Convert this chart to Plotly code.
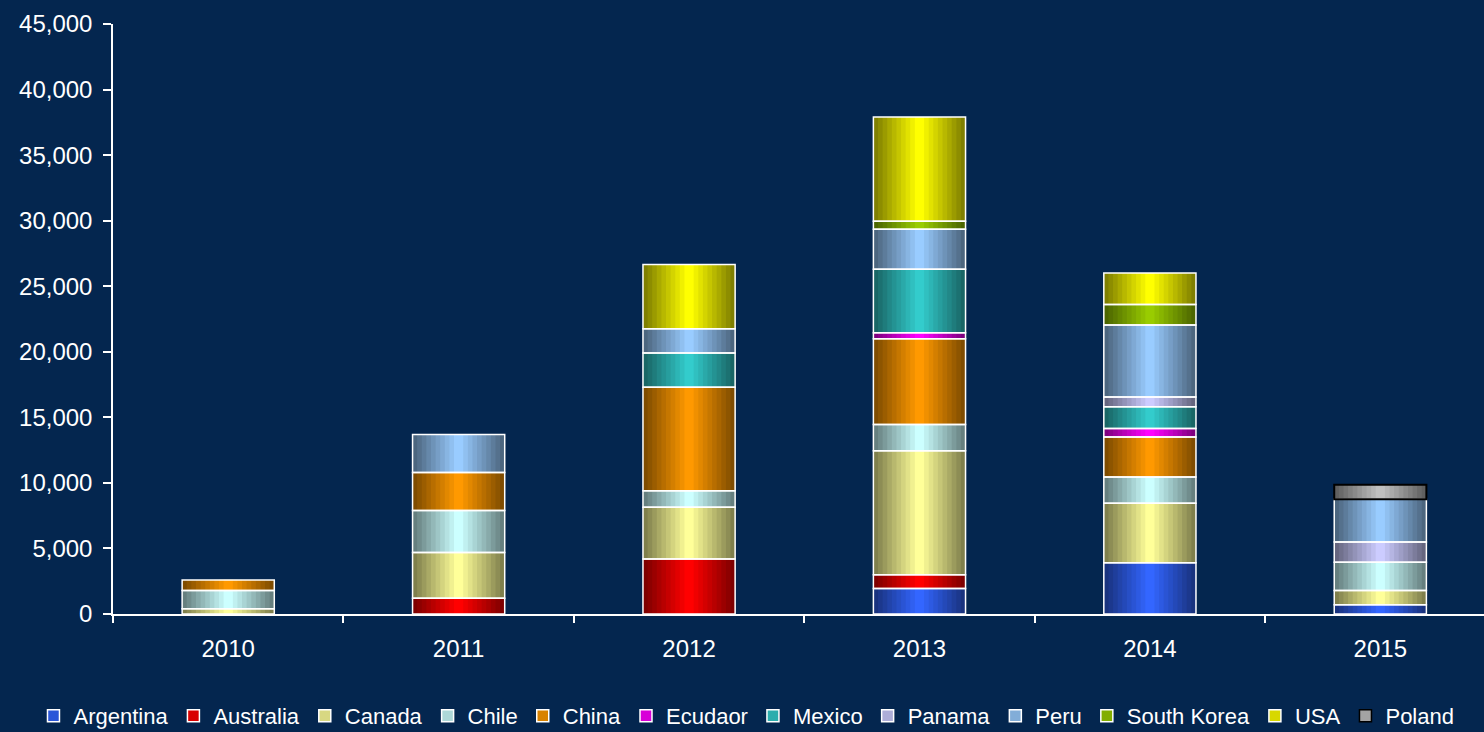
import plotly.graph_objects as go

# export tonnage by destination, per year
years = ["2010", "2011", "2012", "2013", "2014", "2015"]

argentina = [None, None, None, 1950, 3900, 700]
australia = [None, 1200, 4200, 1050, None, None]
canada = [400, 3500, 3950, 9450, 4550, 1100]
chile = [1400, 3200, 1250, 2000, 2000, 2150]
china = [800, 2900, 7900, 6550, 3050, None]
ecuador = [None, None, None, 450, 650, None]
mexico = [None, None, 2600, 4850, 1650, None]
panama = [None, None, None, None, 750, 1550]
peru = [None, 2900, 1850, 3050, 5500, 3250]
south_korea = [None, None, None, 600, 1550, None]
usa = [None, None, 4900, 7950, 2400, None]
poland = [None, None, None, None, None, 1100]

series = [
    ("Argentina", argentina, "#3366FF", "white"),
    ("Australia", australia, "#FF0000", "white"),
    ("Canada", canada, "#FFFF99", "white"),
    ("Chile", chile, "#CCFFFF", "white"),
    ("China", china, "#FF9900", "white"),
    ("Ecudaor", ecuador, "#FF00FF", "white"),
    ("Mexico", mexico, "#33CCCC", "white"),
    ("Panama", panama, "#CCCCFF", "white"),
    ("Peru", peru, "#99CCFF", "white"),
    ("South Korea", south_korea, "#99CC00", "white"),
    ("USA", usa, "#FFFF00", "white"),
    ("Poland", poland, "#C0C0C0", "black"),
]

BG = "#04264F"
BAR_W = 0.4
STEPS = 10


def shade(hex_color, f):
    h = hex_color.lstrip("#")
    r, g, b = (int(h[i:i + 2], 16) for i in (0, 2, 4))
    return "rgb(%d,%d,%d)" % (r * f, g * f, b * f)


fig = go.Figure()
bases = [0] * len(years)
outlines = []

for name, vals, color, edge in series:
    base = list(bases)
    # fake the excel-style horizontal gradient with nested bars
    for k in range(STEPS):
        t = k / (STEPS - 1)
        fig.add_trace(go.Bar(
            x=years, y=vals, base=base,
            width=BAR_W * (1 - k / STEPS),
            marker=dict(color=shade(color, 0.5 + 0.5 * t), line=dict(width=0)),
            showlegend=False, hoverinfo="skip",
        ))
    outlines.append(go.Bar(
        x=years, y=vals, base=base, width=BAR_W,
        marker=dict(color="rgba(0,0,0,0)",
                    line=dict(color=edge, width=2 if edge == "black" else 1.5)),
        showlegend=False, name=name,
    ))
    for i, v in enumerate(vals):
        if v:
            bases[i] += v

for tr in outlines:
    fig.add_trace(tr)

# legend-only entries
for name, vals, color, edge in series:
    fig.add_trace(go.Bar(
        x=[None], y=[None], name=name,
        marker=dict(color=shade(color, 0.85), line=dict(color=edge, width=1.5)),
    ))

fig.update_layout(
    width=1484, height=732,
    barmode="overlay",
    paper_bgcolor=BG, plot_bgcolor=BG,
    font=dict(family="Liberation Sans, Arial, sans-serif", color="white", size=24),
    margin=dict(l=113, r=0, t=24, b=118, autoexpand=False),
    xaxis=dict(
        type="category", range=[-0.5, 5.45],
        tickson="boundaries", ticks="outside", ticklen=7, tickcolor="white", tickwidth=1.5,
        showline=True, linecolor="white", linewidth=2,
        showgrid=False, zeroline=False, ticklabelstandoff=12,
    ),
    yaxis=dict(
        range=[0, 45000], dtick=5000, tickformat=",",
        ticks="outside", ticklen=8, tickcolor="white", tickwidth=1.5,
        showline=True, linecolor="white", linewidth=1.5,
        showgrid=False, zeroline=False, ticklabelstandoff=6,
    ),
    legend=dict(
        orientation="h",
        x=-0.058, xanchor="left", y=-0.173, yanchor="middle",
        font=dict(size=22),
        itemwidth=30, traceorder="normal",
        bgcolor="rgba(0,0,0,0)",
    ),
)

fig.write_html("out.html", config={"displayModeBar": False},
               post_script="document.body.style.margin='0';")
